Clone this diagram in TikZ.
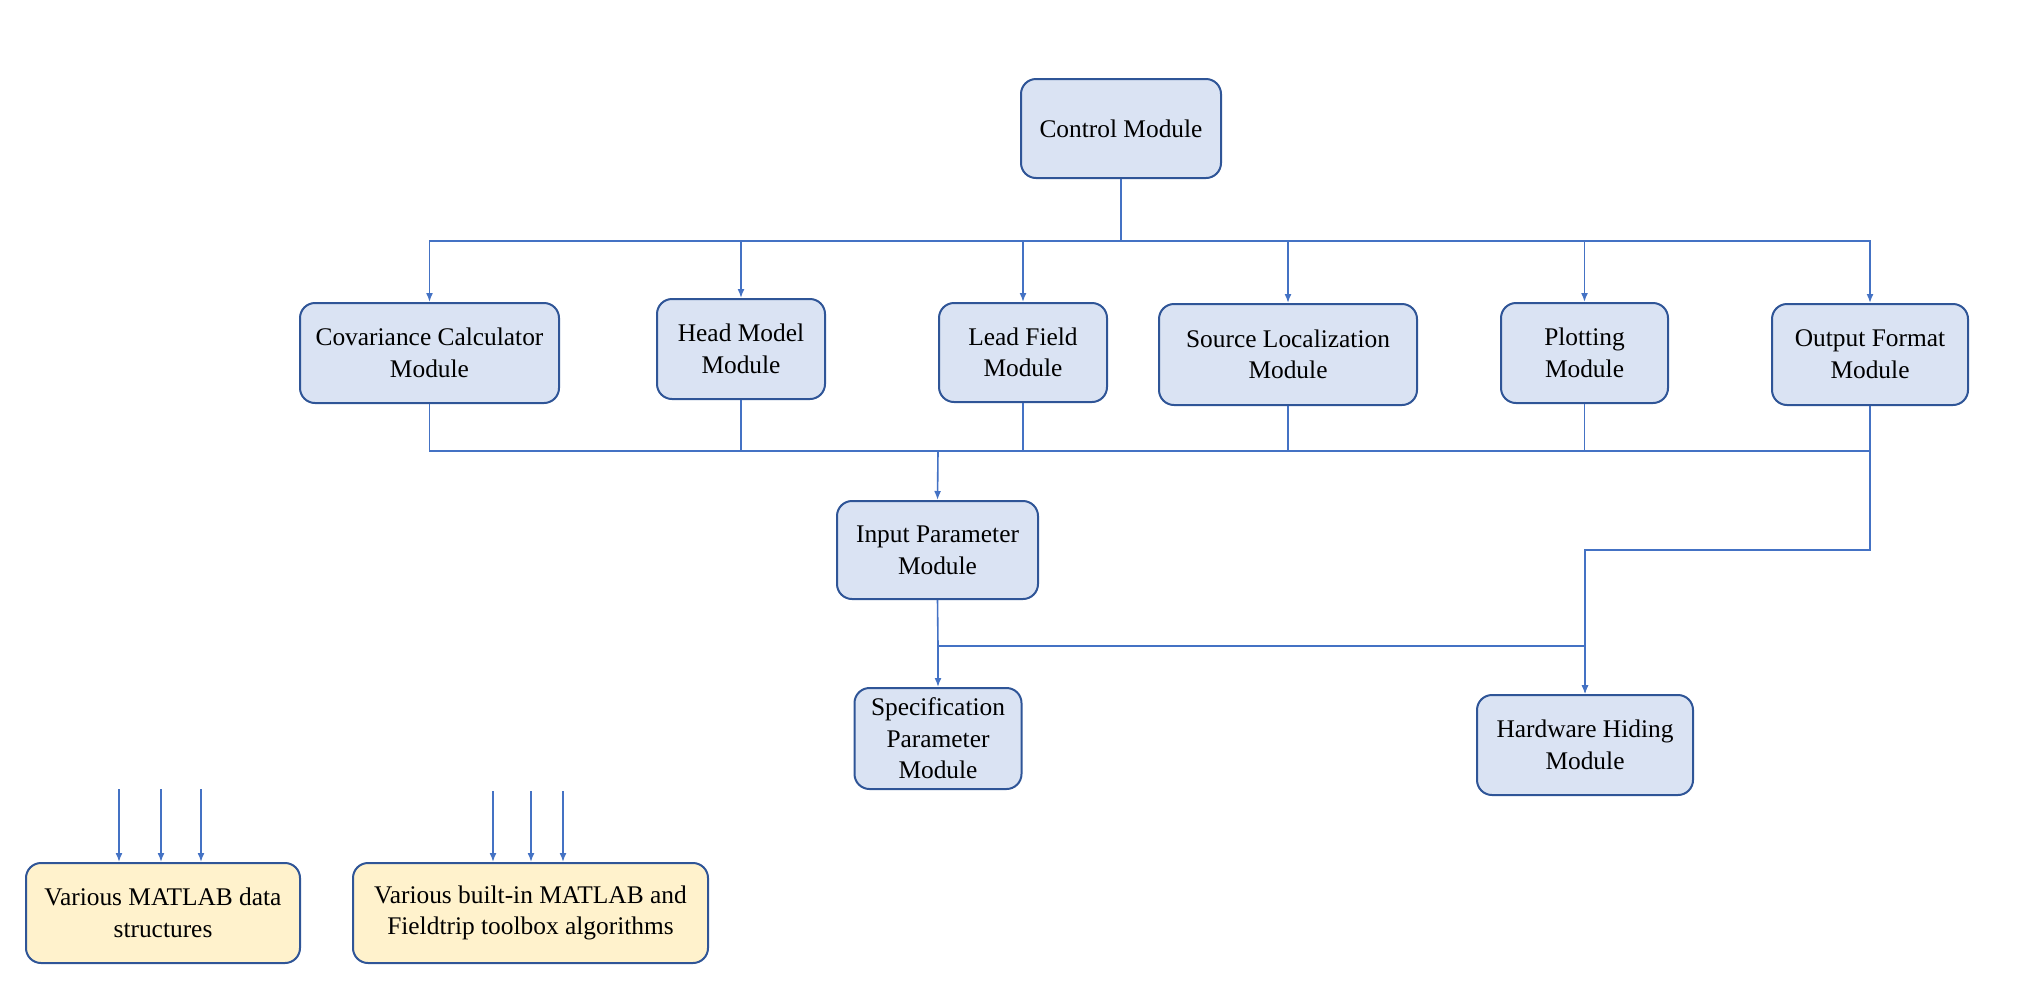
\documentclass[tikz,border=0pt]{standalone}
\usepackage{fontspec}
\setmainfont{Liberation Serif}
\usetikzlibrary{arrows.meta,calc}
\definecolor{boxfill}{HTML}{DAE3F3}
\definecolor{boxline}{HTML}{2F5597}
\definecolor{conn}{HTML}{4472C4}
\definecolor{yfill}{HTML}{FFF2CC}
\begin{document}
\begin{tikzpicture}[x=0.5pt,y=-0.5pt,
  modbox/.style={draw=boxline,fill=boxfill,line width=1pt,rounded corners=7.5pt,
    align=center,inner sep=0pt,font=\fontsize{12.7}{15.8}\selectfont},
  ybox/.style={modbox,fill=yfill},
  wire/.style={draw=conn,line width=0.8pt},
  arr/.style={wire,-{Latex[length=4.5pt,width=3.5pt]}}]
\useasboundingbox (0,0) rectangle (2034,1002);
% nodes
\node[modbox,minimum width=100pt,minimum height=49.5pt] (ctrl) at (1121,128.5) {Control Module};
\node[modbox,minimum width=129.5pt,minimum height=50pt] (cov) at (429.5,353) {Covariance Calculator\\Module};
\node[modbox,minimum width=84pt,minimum height=50pt] (head) at (741,349) {Head Model\\Module};
\node[modbox,minimum width=84pt,minimum height=49.5pt] (lead) at (1023,352.5) {Lead Field\\Module};
\node[modbox,minimum width=129pt,minimum height=50.5pt] (src) at (1288,354.5) {Source Localization\\Module};
\node[modbox,minimum width=83.5pt,minimum height=50pt] (plot) at (1584.5,353) {Plotting\\Module};
\node[modbox,minimum width=98pt,minimum height=50.5pt] (out) at (1870,354.5) {Output Format\\Module};
\node[modbox,minimum width=100.5pt,minimum height=49pt] (inp) at (937.5,550) {Input Parameter\\Module};
\node[modbox,minimum width=83.5pt,minimum height=50.5pt] (spec) at (938,738.5) {Specification\\Parameter\\Module};
\node[modbox,minimum width=108pt,minimum height=50pt] (hw) at (1585,745) {Hardware Hiding\\Module};
\node[ybox,minimum width=137pt,minimum height=50pt] (v1) at (163,913) {Various MATLAB data\\structures};
\node[ybox,minimum width=177.5pt,minimum height=50pt] (v2) at (530.5,913) {Various built-in MATLAB and\\Fieldtrip toolbox algorithms};
% bus coordinates
\coordinate (bt) at (1121,241);
\coordinate (bb) at (938,451);
\coordinate (oh) at (1870,550);
\coordinate (sp) at (938,646);
% control to modules
\foreach \m in {cov,head,lead,src,plot,out}{
  \draw[arr] (ctrl.south) -- (bt) -| (\m.north);
}
% modules to input
\foreach \m in {cov,head,lead,src,plot,out}{
  \draw[wire] (\m.south) |- (bb);
}
\draw[arr] (bb) -- (inp.north);
% output to hardware
\draw[arr] (out.south) -- (oh) -| (hw.north);
% input to spec / hardware
\draw[arr] (inp.south) -- (sp) -- (spec.north);
\draw[arr] (sp) -| (hw.north);
% free arrows
\coordinate (a1) at (119,789);
\coordinate (a2) at (161,789);
\coordinate (a3) at (201,789);
\coordinate (b1) at (493,791);
\coordinate (b2) at (531,791);
\coordinate (b3) at (563,791);
\draw[arr] (a1) -- (a1 |- v1.north);
\draw[arr] (a2) -- (a2 |- v1.north);
\draw[arr] (a3) -- (a3 |- v1.north);
\draw[arr] (b1) -- (b1 |- v2.north);
\draw[arr] (b2) -- (b2 |- v2.north);
\draw[arr] (b3) -- (b3 |- v2.north);
\end{tikzpicture}
\end{document}
